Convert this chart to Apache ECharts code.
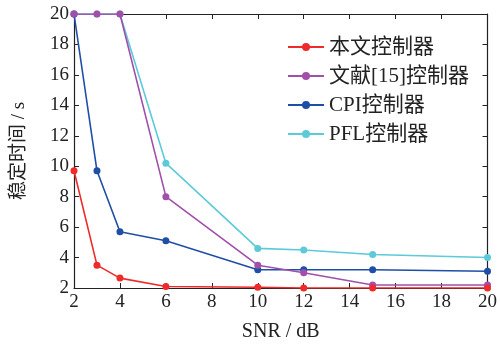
<!DOCTYPE html>
<html>
<head>
<meta charset="utf-8">
<script src="https://cdn.jsdelivr.net/npm/echarts@6/dist/echarts.min.js"></script>
<style>
  html, body { margin: 0; padding: 0; background: #fff; }
  #chart { width: 500px; height: 349px; }
</style>
</head>
<body>
<div id="chart"></div>
<script>
var snr = [2, 3, 4, 6, 10, 12, 15, 20];
var names = ['本文控制器', '文献[15]控制器', 'CPI控制器', 'PFL控制器'];
var ours = [9.7, 3.5, 2.65, 2.1, 2.05, 2.0, 2.0, 2.0];
var ref15 = [20, 20, 20, 8.0, 3.5, 3.0, 2.2, 2.2];
var cpi = [20, 9.7, 5.7, 5.1, 3.2, 3.2, 3.2, 3.1];
var pfl = [20, 20, 20, 10.2, 4.6, 4.5, 4.2, 4.0];
var colors = ['#ee2a2a', '#a24fac', '#1f4ea6', '#5ccad8'];

var font = '"Liberation Serif", "Noto Sans CJK SC", serif';
var chart = echarts.init(document.getElementById('chart'));

function pairs(ys) {
  return snr.map(function (x, i) { return [x, ys[i]]; });
}

var lineAxis = { lineStyle: { color: '#222', width: 1.2 } };
var tick = { inside: true, length: 5, lineStyle: { color: '#222' } };

var series = [ours, ref15, cpi, pfl].map(function (d, i) {
  return {
    name: names[i],
    type: 'line',
    data: pairs(d),
    symbol: 'circle',
    symbolSize: 7,
    lineStyle: { width: 1.6, color: colors[i] },
    itemStyle: { color: colors[i] },
    z: 10 - i
  };
});

chart.setOption({
  animation: false,
  textStyle: { fontFamily: font },
  grid: { left: 74, right: 8, top: 14, bottom: 61 },
  legend: {
    orient: 'vertical',
    right: 26,
    top: 31,
    itemWidth: 36,
    itemHeight: 10,
    itemGap: 7,
    data: names,
    textStyle: { fontFamily: font, fontSize: 21, lineHeight: 22, color: '#222' }
  },
  xAxis: [{
    type: 'value', min: 2, max: 20, interval: 2,
    name: 'SNR / dB', nameLocation: 'middle', nameGap: 34,
    nameTextStyle: { fontSize: 20, color: '#222', fontFamily: font },
    axisLine: lineAxis, axisTick: tick,
    axisLabel: { fontSize: 19, color: '#222', margin: 5, fontFamily: font },
    splitLine: { show: false }
  }, {
    type: 'value', min: 2, max: 20, interval: 2, position: 'top',
    axisLine: lineAxis, axisTick: tick, axisLabel: { show: false },
    splitLine: { show: false }
  }],
  yAxis: [{
    type: 'value', min: 2, max: 20, interval: 2,
    name: '稳定时间 / s', nameLocation: 'middle', nameGap: 45,
    nameTextStyle: { fontSize: 19, color: '#222', fontFamily: font },
    axisLine: lineAxis, axisTick: tick,
    axisLabel: { fontSize: 19, color: '#222', margin: 5, fontFamily: font },
    splitLine: { show: false }
  }, {
    type: 'value', min: 2, max: 20, interval: 2, position: 'right',
    axisLine: lineAxis, axisTick: tick, axisLabel: { show: false },
    splitLine: { show: false }
  }],
  series: series
});
</script>
</body>
</html>
